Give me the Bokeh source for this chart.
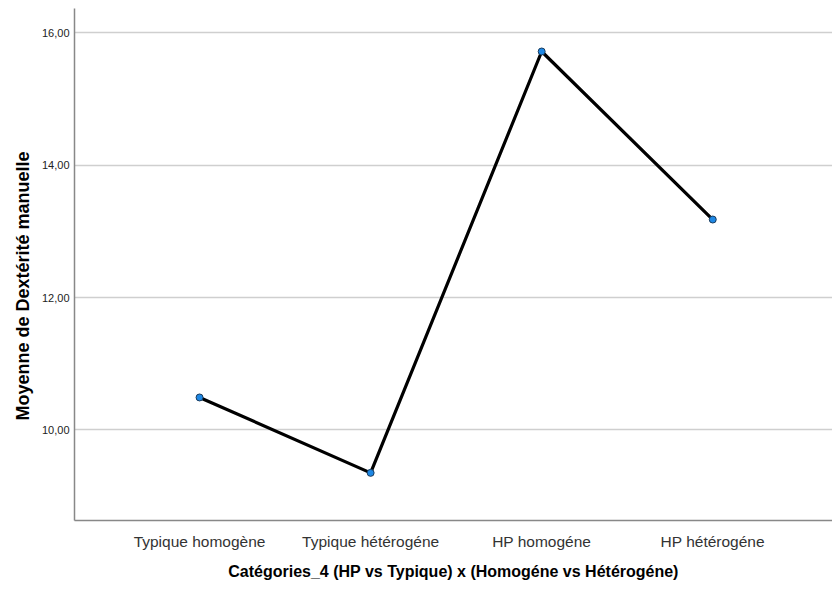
from bokeh.plotting import figure
from bokeh.models import FixedTicker, Range1d, Title
from bokeh.embed import file_html
from bokeh.resources import INLINE

categories = ["Typique homogène", "Typique hétérogéne", "HP homogéne", "HP hétérogéne"]
means = [10.49, 9.35, 15.72, 13.18]
y_ticks = [10, 12, 14, 16]
y_tick_labels = ["10,00", "12,00", "14,00", "16,00"]

xs = list(range(len(categories)))

p = figure(width=832, height=596, output_backend="svg", toolbar_location=None,
           x_range=Range1d(-0.731, 3.70), y_range=Range1d(8.63, 16.37),
           min_border_left=74, min_border_right=0, min_border_top=8, min_border_bottom=76)
p.outline_line_color = None
p.background_fill_color = "white"
p.border_fill_color = "white"

p.line(xs, means, line_color="black", line_width=3.2)
p.scatter(xs, means, size=7, fill_color="#1e88e5", line_color="#1a3b5c", line_width=1)

p.xaxis.ticker = FixedTicker(ticks=xs)
p.xaxis.major_label_overrides = {i: c for i, c in enumerate(categories)}
p.yaxis.ticker = FixedTicker(ticks=y_ticks)
p.yaxis.major_label_overrides = {t: l for t, l in zip(y_ticks, y_tick_labels)}

for ax in (p.xaxis[0], p.yaxis[0]):
    ax.axis_line_color = "#888888"
    ax.axis_line_width = 1.5
    ax.major_tick_line_color = None
    ax.minor_tick_line_color = None
    ax.major_tick_out = 0
    ax.major_tick_in = 0
    ax.minor_tick_out = 0
    ax.major_label_text_font = "Liberation Sans"
    ax.axis_label_text_font = "Liberation Sans"
    ax.axis_label_text_font_style = "bold"
    ax.axis_label_text_color = "black"

p.xaxis.axis_label = "Catégories_4 (HP vs Typique) x (Homogéne vs Hétérogéne)"
p.xaxis.axis_label_text_font_size = "16px"
p.xaxis.major_label_text_font_size = "15.5px"
p.xaxis.major_label_text_color = "#333333"
p.xaxis.major_label_standoff = 12
p.xaxis.axis_label_standoff = 10

p.yaxis.major_label_text_font_size = "11px"
p.yaxis.major_label_text_color = "#222222"
p.yaxis.major_label_standoff = 5

ytitle = Title(text="Moyenne de Dextérité manuelle", align="left", offset=100,
               text_font="Liberation Sans", text_font_style="bold",
               text_font_size="18px", text_color="black", standoff=12)
p.add_layout(ytitle, "left")

p.xgrid.grid_line_color = None
p.ygrid.grid_line_color = "#cfcfcf"
p.ygrid.grid_line_width = 1.5

open("out.html", "w").write(file_html(p, INLINE))
